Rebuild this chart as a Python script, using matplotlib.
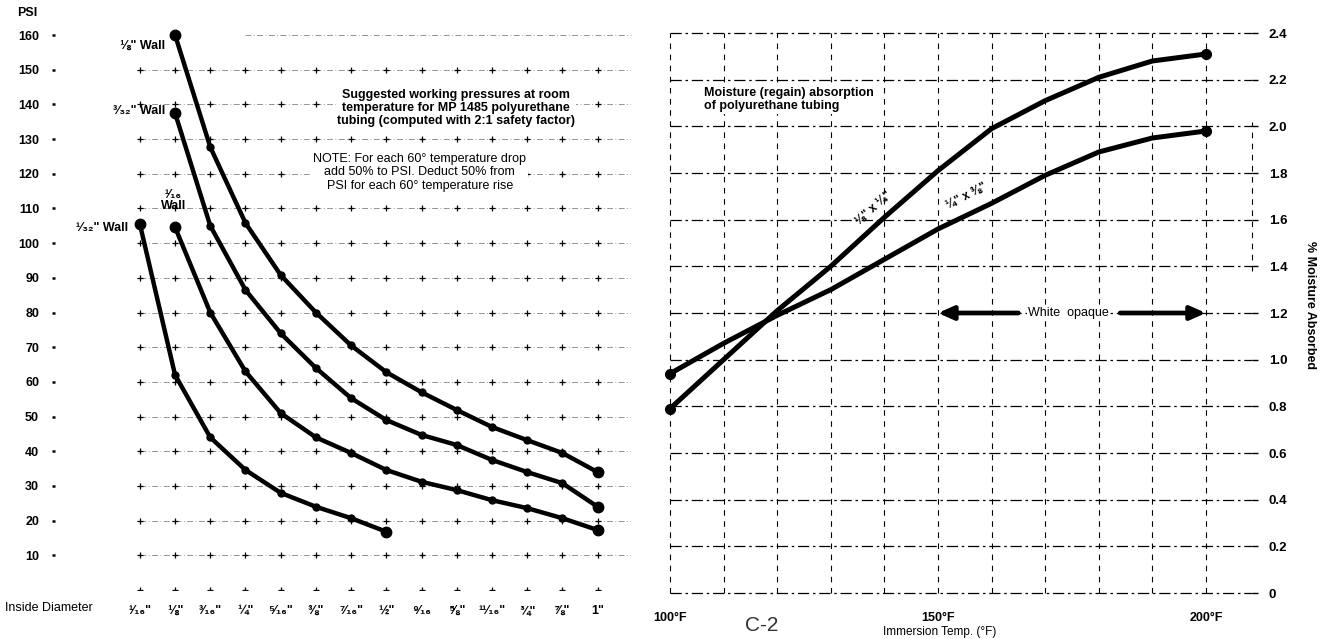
"""plot.py - polyurethane tubing: working pressure vs ID, moisture vs temperature"""
import numpy as np
import matplotlib
matplotlib.use("Agg")
import matplotlib.pyplot as plt

plt.rcParams["font.family"] = ["Liberation Sans", "DejaVu Sans"]

nan = np.nan

# left chart: working pressure (PSI) per inside diameter
id_labels = ["¹⁄₁₆\"", "⅛\"", "³⁄₁₆\"", "¼\"", "⁵⁄₁₆\"", "⅜\"", "⁷⁄₁₆\"",
             "½\"", "⁹⁄₁₆", "⅝\"", "¹¹⁄₁₆\"", "¾\"", "⅞\"", "1\""]
psi_wall_1_8 = [nan, 160, 127.7, 105.8, 90.8, 80, 70.5, 62.8, 57, 51.9, 47, 43.2, 39.5, 34]
psi_wall_3_32 = [nan, 137.5, 105, 86.5, 74, 64, 55.3, 49, 44.7, 41.8, 37.5, 34, 30.8, 24]
psi_wall_1_16 = [nan, 104.6, 80, 63, 51, 44, 39.5, 34.6, 31.2, 28.8, 25.9, 23.6, 20.7, 17.3]
psi_wall_1_32 = [105.5, 62, 44, 34.6, 28, 24, 20.7, 16.8, nan, nan, nan, nan, nan, nan]
psi_ticks = list(range(10, 161, 10))

# right chart: % moisture absorbed vs immersion temperature
temps = [100, 110, 120, 130, 140, 150, 160, 170, 180, 190, 200]
moist_1_8x1_4 = [0.79, 1.00, 1.21, 1.40, 1.61, 1.81, 1.99, 2.11, 2.21, 2.28, 2.31]
moist_1_4x3_8 = [0.94, 1.07, 1.19, 1.30, 1.43, 1.56, 1.67, 1.79, 1.89, 1.95, 1.98]
moist_ticks = [0, 0.2, 0.4, 0.6, 0.8, 1.0, 1.2, 1.4, 1.6, 1.8, 2.0, 2.2, 2.4]
moist_labels = ["0", "0.2", "0.4", "0.6", "0.8", "1.0", "1.2", "1.4", "1.6",
                "1.8", "2.0", "2.2", "2.4"]

W, H = 1324, 639
fig = plt.figure(figsize=(W / 100, H / 100), dpi=100)
ax1 = fig.add_axes([55 / W, (H - 590) / H, 576 / W, 555 / H])
ax2 = fig.add_axes([670 / W, (H - 593) / H, 582 / W, 560 / H])

# ---------------- left chart ----------------
ax1.set_xlim(-2.41, 13.95)
ax1.set_ylim(0, 160)
for s in ax1.spines.values():
    s.set_visible(False)

ncol = len(id_labels)
# broken grid: dash-dot rows + little crosses at each node
for r in range(0, 160, 10):
    ax1.plot([0, 13.95], [r, r], ls=(0, (7, 3, 1, 3)), lw=0.6, color="0.3", alpha=0.7)
ax1.plot([3, 13.95], [160, 160], ls=(0, (7, 3, 1, 3)), lw=0.6, color="0.3", alpha=0.7,
         clip_on=False)
gx, gy = np.meshgrid(np.arange(ncol), np.arange(0, 160, 10))
ax1.plot(gx.ravel(), gy.ravel(), "+", ms=4, mew=0.9, color="black", ls="none")

xs = np.arange(ncol)
for ys in (psi_wall_1_8, psi_wall_3_32, psi_wall_1_16, psi_wall_1_32):
    ys = np.array(ys, dtype=float)
    ok = ~np.isnan(ys)
    ax1.plot(xs[ok], ys[ok], "-o", color="black", lw=3.2, ms=5, clip_on=False,
             solid_capstyle="round", zorder=4)
    ax1.plot(xs[ok][[0, -1]], ys[ok][[0, -1]], "o", color="black", ms=7.5,
             clip_on=False, zorder=5)

ax1.set_yticks(psi_ticks)
ax1.set_yticklabels([str(v) for v in psi_ticks], fontweight="bold")
ax1.tick_params(axis="y", length=2.5, width=1.8, pad=9, labelsize=9)
ax1.set_xticks(xs)
ax1.set_xticklabels(id_labels, fontweight="bold")
ax1.tick_params(axis="x", length=0, pad=11, labelsize=9)

fig.text(5 / W, 1 - 608 / H, "Inside Diameter", fontsize=9, va="center", ha="left")
fig.text(27 / W, 1 - 13 / H, "PSI", fontsize=9, fontweight="bold", va="center", ha="center")

# wall labels
ax1.text(0.72, 157, "⅛\" Wall", ha="right", va="center", fontsize=9, fontweight="bold")
ax1.text(0.72, 138, "³⁄₃₂\" Wall", ha="right", va="center", fontsize=9, fontweight="bold")
ax1.text(0.95, 109, "¹⁄₁₆\nWall", ha="center", va="bottom", fontsize=9, fontweight="bold",
         linespacing=0.9)
ax1.text(-0.33, 104.5, "¹⁄₃₂\" Wall", ha="right", va="center", fontsize=9, fontweight="bold")

ax1.text(8.98, 144.5,
         "Suggested working pressures at room\n"
         "temperature for MP 1485 polyurethane\n"
         "tubing (computed with 2:1 safety factor)",
         ha="center", va="top", fontsize=9, fontweight="bold", linespacing=1.15,
         bbox=dict(facecolor="white", edgecolor="none", pad=1))
ax1.text(7.95, 126,
         "NOTE: For each 60° temperature drop\n"
         "add 50% to PSI. Deduct 50% from\n"
         "PSI for each 60° temperature rise",
         ha="center", va="top", fontsize=9, linespacing=1.15,
         bbox=dict(facecolor="white", edgecolor="none", pad=1))

# ---------------- right chart ----------------
ax2.set_xlim(100, 208.6)
ax2.set_ylim(0, 2.4)
for s in ax2.spines.values():
    s.set_visible(False)

for v in moist_ticks:
    ax2.plot([100, 208.6], [v, v], ls=(0, (9, 3, 2, 3)), lw=0.9, color="black",
             clip_on=False)
for t in temps:
    ax2.plot([t, t], [0, 2.4], ls=(0, (5, 5)), lw=0.8, color="black", clip_on=False)
ax2.plot([208.6, 208.6], [1.38, 2.02], ls=(0, (5, 5)), lw=0.8, color="black",
         clip_on=False)

for ys in (moist_1_8x1_4, moist_1_4x3_8):
    ax2.plot(temps, ys, color="black", lw=3.6, solid_capstyle="round",
             solid_joinstyle="round", clip_on=False, zorder=4)
    ax2.plot([temps[0], temps[-1]], [ys[0], ys[-1]], "o", color="black", ms=7,
             clip_on=False, zorder=5)


def screen_angle(ax, x0, y0, x1, y1):
    (a, b), (c, d) = ax.transData.transform([(x0, y0), (x1, y1)])
    return np.degrees(np.arctan2(d - b, c - a))


ang_a = screen_angle(ax2, temps[3], moist_1_8x1_4[3], temps[5], moist_1_8x1_4[5])
ang_b = screen_angle(ax2, temps[4], moist_1_4x3_8[4], temps[6], moist_1_4x3_8[6])
ax2.text(138.0, 1.65, "⅛\" x ¼\"", rotation=ang_a, ha="center", va="center",
         fontsize=8.5, fontweight="bold", rotation_mode="anchor")
ax2.text(155.3, 1.70, "¼\" x ⅜\"", rotation=ang_b, ha="center", va="center",
         fontsize=8.5, fontweight="bold", rotation_mode="anchor")

ax2.text(106.3, 2.17, "Moisture (regain) absorption\nof polyurethane tubing",
         ha="left", va="top", fontsize=9, fontweight="bold", linespacing=1.2,
         bbox=dict(facecolor="white", edgecolor="none", pad=1))

# white opaque range arrows
arrow = dict(arrowstyle="-|>,head_length=0.9,head_width=0.4", lw=3.4, color="black",
             shrinkA=0, shrinkB=0)
ax2.annotate("", xy=(150, 1.2), xytext=(165, 1.2), arrowprops=arrow, zorder=5)
ax2.annotate("", xy=(200, 1.2), xytext=(184, 1.2), arrowprops=arrow, zorder=5)
ax2.text(174.4, 1.2, "White  opaque", ha="center", va="center", fontsize=9,
         bbox=dict(facecolor="white", edgecolor="none", pad=1), zorder=6)

ax2.yaxis.tick_right()
ax2.set_yticks(moist_ticks)
ax2.set_yticklabels(moist_labels, fontweight="bold")
ax2.tick_params(axis="y", length=4, width=1, pad=8, labelsize=9.5)
ax2.set_xticks([100, 150, 200])
ax2.set_xticklabels(["100°F", "150°F", "200°F"], fontweight="bold")
ax2.tick_params(axis="x", length=0, pad=14, labelsize=9)

fig.text(940 / W, 1 - 632 / H, "Immersion Temp. (°F)", fontsize=8.5, ha="center",
         va="center")
fig.text(1310 / W, 1 - 305 / H, "% Moisture Absorbed", rotation=-90, fontsize=9,
         fontweight="bold", ha="center", va="center")
fig.text(762 / W, 1 - 616 / H, "C-2", fontsize=15, color="0.2", ha="center", va="top")

fig.savefig("out.png", dpi=100)
print("saved out.png")
